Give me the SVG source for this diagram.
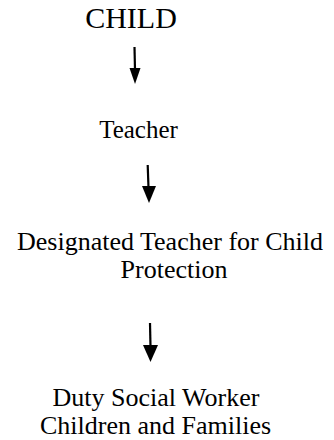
<svg xmlns="http://www.w3.org/2000/svg" width="334" height="440" viewBox="0 0 334 440">
<style>
text{font-family:"Liberation Serif","Times New Roman",serif;fill:#000;text-anchor:middle}
.big{font-size:30px}
.t{font-size:26px}
.shaft{stroke:#000;stroke-width:2.2;fill:none}
.head{fill:#000}
</style>
<rect width="334" height="440" fill="#fff"/>
<g id="child"><text class="big" x="131" y="28">CHILD</text></g>
<g id="teacher"><text class="t" x="138.5" y="138" style="font-size:25px">Teacher</text></g>
<g id="designated"><text class="t" x="170" y="250">Designated Teacher for Child</text><text class="t" x="174" y="278">Protection</text></g>
<g id="duty"><text class="t" x="156" y="406">Duty Social Worker</text><text class="t" x="155.5" y="434">Children and Families</text></g>
<g id="connectors">
<line class="shaft" x1="134.5" y1="47" x2="135" y2="70"/>
<polygon class="head" points="129.5,68 140.5,68 135,84"/>
<line class="shaft" x1="147.7" y1="165" x2="148.5" y2="188"/>
<polygon class="head" points="142,186 156,186 149,203"/>
<line class="shaft" x1="150" y1="323" x2="150.5" y2="347"/>
<polygon class="head" points="143,345 158,345 150.5,362"/>
</g>
</svg>
